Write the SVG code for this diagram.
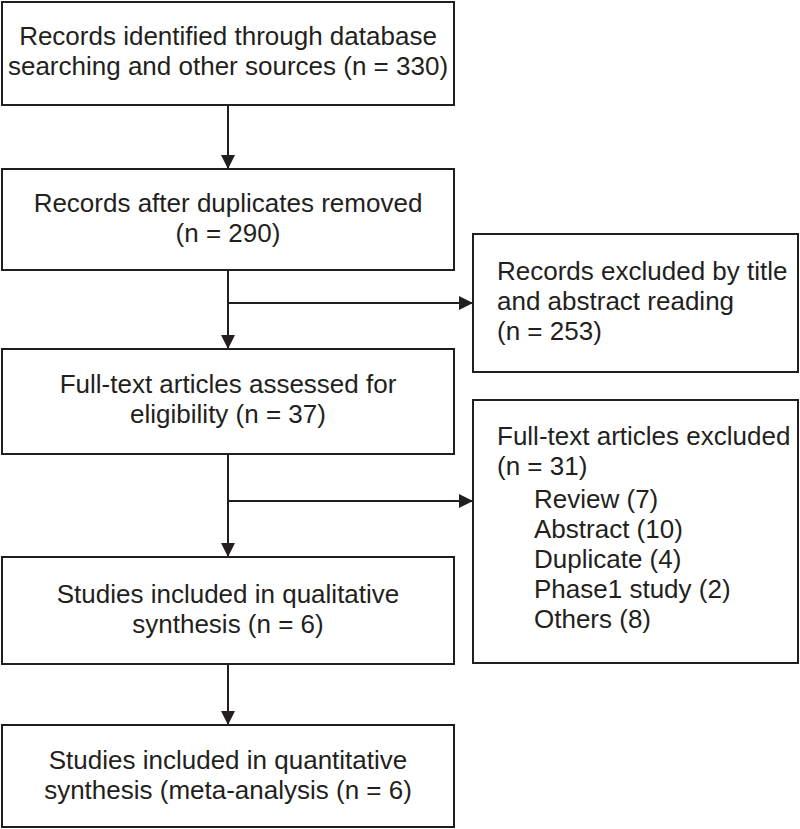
<svg xmlns="http://www.w3.org/2000/svg" width="800" height="829" viewBox="0 0 800 829">
  <style>
    .box { fill: #ffffff; stroke: #231f20; stroke-width: 2; }
    .t { font-family: "Liberation Sans", Arial, sans-serif; font-size: 26px; fill: #231f20; }
    .c { text-anchor: middle; }
    .edge { fill: none; stroke: #231f20; stroke-width: 2; }
  </style>
  <defs>
    <marker id="arrow" markerUnits="userSpaceOnUse" markerWidth="14" markerHeight="14" viewBox="0 0 14 14" refX="14" refY="7" orient="auto">
      <path d="M0,0 L14,7 L0,14 Z" fill="#231f20"/>
    </marker>
  </defs>
  <rect width="800" height="829" fill="#ffffff"/>

  <g id="connectors">
    <line class="edge" x1="228" y1="105" x2="228" y2="169" marker-end="url(#arrow)"/>
    <line class="edge" x1="228" y1="270" x2="228" y2="349" marker-end="url(#arrow)"/>
    <line class="edge" x1="228" y1="303" x2="473" y2="303" marker-end="url(#arrow)"/>
    <line class="edge" x1="228" y1="454" x2="228" y2="557" marker-end="url(#arrow)"/>
    <line class="edge" x1="228" y1="501" x2="473" y2="501" marker-end="url(#arrow)"/>
    <line class="edge" x1="228" y1="664" x2="228" y2="725" marker-end="url(#arrow)"/>
  </g>

  <g id="identified">
    <rect class="box" x="2" y="2" width="452" height="103"/>
    <text class="t c" x="228" y="45">Records identified through database</text>
    <text class="t c" x="228" y="75">searching and other sources (n = 330)</text>
  </g>

  <g id="after-duplicates">
    <rect class="box" x="2" y="169" width="452" height="101"/>
    <text class="t c" x="228" y="212">Records after duplicates removed</text>
    <text class="t c" x="228" y="242">(n = 290)</text>
  </g>

  <g id="excluded-title">
    <rect class="box" x="473" y="234" width="325" height="138"/>
    <text class="t" x="497" y="280">Records excluded by title</text>
    <text class="t" x="497" y="310">and abstract reading</text>
    <text class="t" x="497" y="340">(n = 253)</text>
  </g>

  <g id="full-text-assessed">
    <rect class="box" x="2" y="349" width="452" height="105"/>
    <text class="t c" x="228" y="393">Full-text articles assessed for</text>
    <text class="t c" x="228" y="423">eligibility (n = 37)</text>
  </g>

  <g id="full-text-excluded">
    <rect class="box" x="473" y="400" width="325" height="263"/>
    <text class="t" x="497" y="445">Full-text articles excluded</text>
    <text class="t" x="497" y="475">(n = 31)</text>
    <text class="t" x="534" y="508">Review (7)</text>
    <text class="t" x="534" y="538">Abstract (10)</text>
    <text class="t" x="534" y="568">Duplicate (4)</text>
    <text class="t" x="534" y="598">Phase1 study (2)</text>
    <text class="t" x="534" y="628">Others (8)</text>
  </g>

  <g id="qualitative">
    <rect class="box" x="2" y="557" width="452" height="107"/>
    <text class="t c" x="228" y="603">Studies included in qualitative</text>
    <text class="t c" x="228" y="633">synthesis (n = 6)</text>
  </g>

  <g id="quantitative">
    <rect class="box" x="2" y="725" width="452" height="102"/>
    <text class="t c" x="228" y="769">Studies included in quantitative</text>
    <text class="t c" x="228" y="799">synthesis (meta-analysis (n = 6)</text>
  </g>
</svg>
